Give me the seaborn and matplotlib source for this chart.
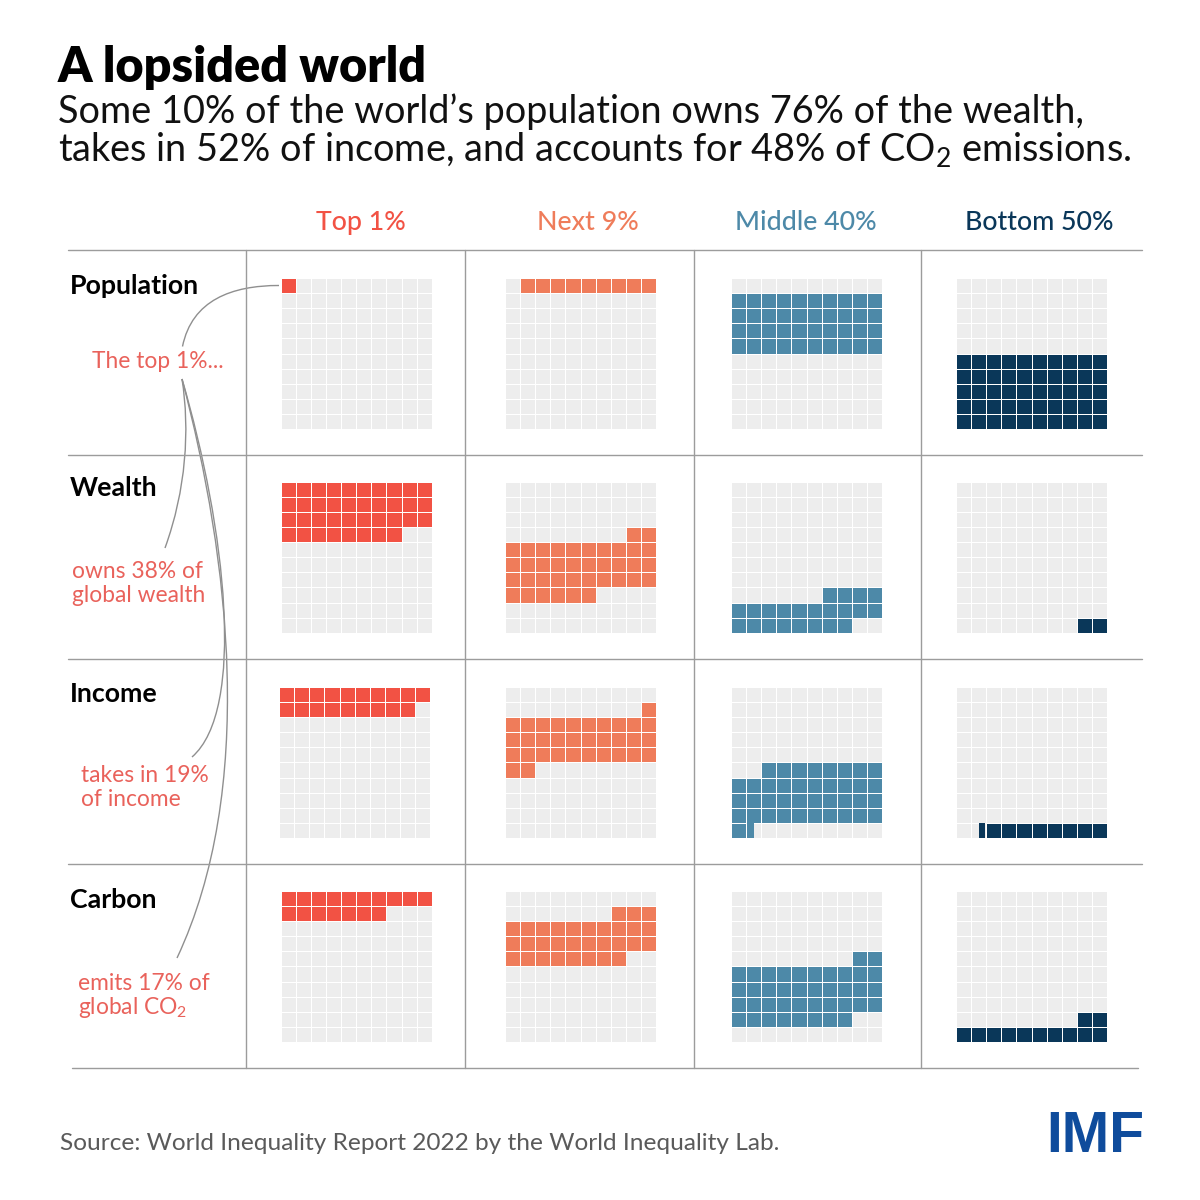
import numpy as np
import matplotlib
matplotlib.use("Agg")
import matplotlib.pyplot as plt
from matplotlib.colors import ListedColormap
from matplotlib.patches import PathPatch
from matplotlib.path import Path
import seaborn as sns

# share of the world total held by each group (one waffle cell = 1%)
groups = ["Top 1%", "Next 9%", "Middle 40%", "Bottom 50%"]
measures = ["Population", "Wealth", "Income", "Carbon"]
population = [1, 9, 40, 50]
wealth = [38, 38, 22, 2]
income = [19, 33, 39.5, 8.5]
carbon = [17, 31, 40, 12]

group_colors = ["#F25244", "#EF7C5A", "#4D89A8", "#0A3759"]
EMPTY = "#EDEDED"
NOTE_RED = "#E9625B"
RULE = "#9C9C9C"

sns.set_theme(style="white")
plt.rcParams["font.family"] = ["Lato", "DejaVu Sans"]
plt.rcParams["mathtext.fontset"] = "custom"
plt.rcParams["mathtext.rm"] = "Lato"

fig = plt.figure(figsize=(12, 12), dpi=100, facecolor="white")

# overlay in pixel coordinates for rules, text and leader curves
bg = fig.add_axes([0, 0, 1, 1])
bg.set_xlim(0, 1200)
bg.set_ylim(1200, 0)
bg.axis("off")

# --- Rules ---
for y in [250, 454.5, 659, 863.5]:
    bg.plot([68, 1142], [y, y], color=RULE, lw=1.0)
bg.plot([72, 1138], [1068, 1068], color=RULE, lw=1.0)
for x in [246, 465, 693.5, 921]:
    bg.plot([x, x], [250, 1068], color=RULE, lw=1.0)

# --- Waffles ---
panel_x = [280.6, 505, 731, 956]
panel_y = [278, 481.6, 686.8, 890.8]
panel_size = 151.2


def draw_waffle(x0, y0, start, share, color):
    ax = fig.add_axes([x0 / 1200, 1 - (y0 + panel_size) / 1200,
                       panel_size / 1200, panel_size / 1200])
    end = start + share
    cover = np.array([max(0, min(i + 1, end) - max(i, start)) for i in range(100)])
    full = (cover == 1).astype(int).reshape(10, 10)
    sns.heatmap(full, ax=ax, cmap=ListedColormap([EMPTY, color]), vmin=0, vmax=1,
                cbar=False, linewidths=0.7, linecolor="white",
                xticklabels=False, yticklabels=False)
    # half cells where two groups share one percent, keep the white gap on the full side
    for i in np.nonzero((cover > 0) & (cover < 1))[0]:
        row, col = divmod(int(i), 10)
        gap = 0.05
        if start > i:
            left, width = col + (start - i), cover[i] - gap
        else:
            left, width = col + gap, cover[i] - gap
        ax.barh(row + 0.5, width, left=left, height=0.94, color=color, linewidth=0)


for r, shares in enumerate([population, wealth, income, carbon]):
    cumulative = 0
    for c, share in enumerate(shares):
        x0 = panel_x[c] - (1.5 if (r == 2 and c == 0) else 0)
        draw_waffle(x0, panel_y[r], cumulative, share, group_colors[c])
        cumulative += share

# --- Leader curves ---
curves = [
    [(279, 285.5), (232, 285.5), (192, 300), (182.5, 346.5)],
    [(182, 379), (190, 430), (186, 490), (165, 548)],
    [(182, 379), (226, 530), (246, 710), (192, 757)],
    [(182, 379), (230, 560), (256, 790), (177, 958)],
]
for pts in curves:
    path = Path(pts, [Path.MOVETO, Path.CURVE4, Path.CURVE4, Path.CURVE4])
    bg.add_patch(PathPatch(path, fill=False, edgecolor="#8F8F8F", lw=1.0))

# --- Text ---
bg.text(58, 68, "A lopsided world", fontsize=35, fontweight=800, color="black",
        va="center", ha="left")
bg.text(58, 112, "Some 10% of the world\u2019s population owns 76% of the wealth,",
        fontsize=27.3, color="#111111", va="center", ha="left")
bg.text(58, 150, r"takes in 52% of income, and accounts for 48% of CO$_{\mathrm{2}}$ emissions.",
        fontsize=27.3, color="#111111", va="center", ha="left")

header_x = [361, 588, 806, 1039]
for name, x, color in zip(groups, header_x, group_colors):
    bg.text(x, 222.5, name, fontsize=19.3, fontweight=500, color=color, ha="center", va="center")

label_y = [286, 488, 694, 900]
for name, y in zip(measures, label_y):
    bg.text(70, y, name, fontsize=19.3, fontweight="bold", color="black", ha="left", va="center")

note_kw = dict(fontsize=16.4, color=NOTE_RED, ha="left", va="center")
bg.text(92, 362, "The top 1%...", **note_kw)
bg.text(72, 571, "owns 38% of", **note_kw)
bg.text(72, 595, "global wealth", **note_kw)
bg.text(81, 775, "takes in 19%", **note_kw)
bg.text(81, 799, "of income", **note_kw)
bg.text(78, 983, "emits 17% of", **note_kw)
bg.text(78, 1007, r"global CO$_{\mathrm{2}}$", **note_kw)

bg.text(60, 1143, "Source: World Inequality Report 2022 by the World Inequality Lab.",
        fontsize=17.6, color="#5A5A5A", ha="left", va="center")
bg.text(1144, 1137, "IMF", fontsize=41, fontweight="bold", color="#0F4C9C",
        ha="right", va="center", family=["Liberation Sans", "DejaVu Sans"])

fig.savefig("out.png", dpi=100)
plt.close(fig)
